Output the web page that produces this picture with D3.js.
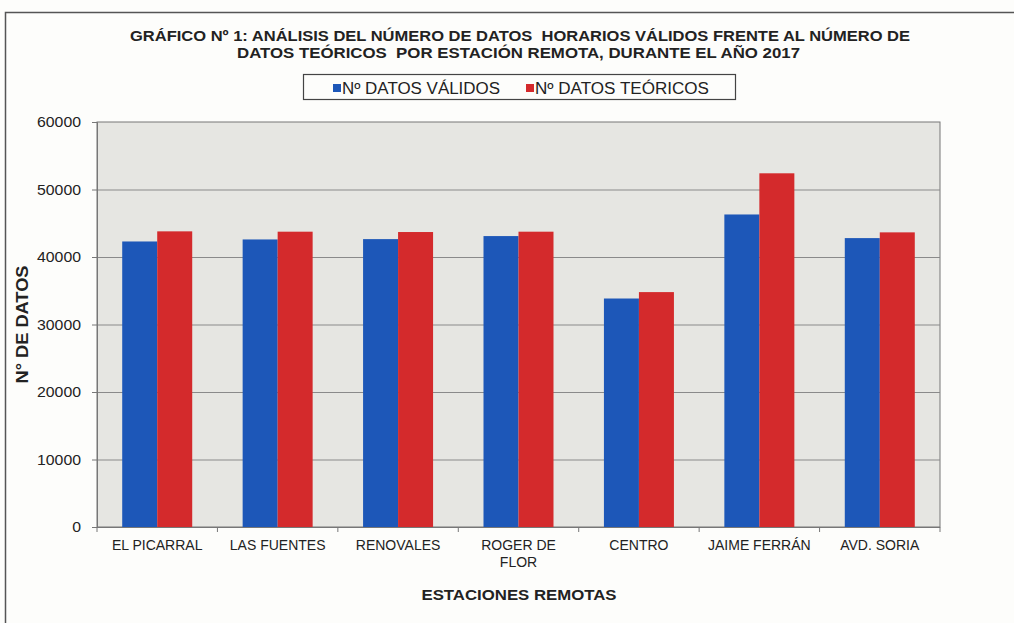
<!DOCTYPE html>
<html>
<head>
<meta charset="utf-8">
<script src="https://cdn.jsdelivr.net/npm/d3@7"></script>
<style>
  body { margin: 0; background: #fdfdfb; }
  svg { display: block; }
</style>
</head>
<body>
<div id="chart"></div>
<script>
const estaciones = ["EL PICARRAL", "LAS FUENTES", "RENOVALES", "ROGER DE|FLOR", "CENTRO", "JAIME FERRÁN", "AVD. SORIA"];
const datosValidos = [42300, 42600, 42650, 43100, 33850, 46300, 42800];
const datosTeoricos = [43800, 43750, 43700, 43750, 34800, 52400, 43650];
const seriesNames = ["Nº DATOS VÁLIDOS", "Nº DATOS TEÓRICOS"];
const seriesColors = ["#1d57b8", "#d42a2c"];
const yTicks = [0, 10000, 20000, 30000, 40000, 50000, 60000];

const W = 1014, H = 623;
const margin = {left: 97, right: 74, top: 122, bottom: 96};
const font = "'Liberation Sans', Arial, sans-serif";

const svg = d3.select("#chart").append("svg").attr("width", W).attr("height", H);

// outer frame (cut off on right/bottom like the scan)
svg.append("rect")
  .attr("x", 5.5).attr("y", 12.5)
  .attr("width", W + 10).attr("height", H + 10)
  .attr("fill", "#fdfdfb")
  .attr("stroke", "#555").attr("stroke-width", 1.5);

const x0 = d3.scaleBand()
  .domain(estaciones)
  .range([margin.left, W - margin.right]);

const x1 = d3.scaleBand()
  .domain([0, 1])
  .range([0, 70]);

const y = d3.scaleLinear()
  .domain([0, 60000])
  .range([H - margin.bottom, margin.top]);

// plot area
svg.append("rect")
  .attr("x", margin.left).attr("y", margin.top)
  .attr("width", W - margin.left - margin.right)
  .attr("height", H - margin.top - margin.bottom)
  .attr("fill", "#e6e6e2")
  .attr("stroke", "#777").attr("stroke-width", 1);

// gridlines
svg.append("g")
  .selectAll("line")
  .data(yTicks.slice(1, -1))
  .enter()
  .append("line")
  .attr("x1", margin.left).attr("x2", W - margin.right)
  .attr("y1", d => y(d) + 0.5).attr("y2", d => y(d) + 0.5)
  .attr("stroke", "#8a8a8a").attr("stroke-width", 1);

// y axis
const yAxis = svg.append("g")
  .attr("transform", "translate(" + margin.left + ",0)")
  .call(d3.axisLeft(y).tickValues(yTicks).tickSize(5).tickPadding(11).tickFormat(d3.format("d")));
yAxis.select(".domain").attr("stroke", "#777");
yAxis.selectAll(".tick line").attr("stroke", "#777");
yAxis.selectAll("text")
  .attr("font-family", font).attr("font-size", 15).attr("fill", "#222")
  .attr("textLength", function() { return this.textContent.length * 8.8; })
  .attr("lengthAdjust", "spacingAndGlyphs");

// x axis
const xAxis = svg.append("g")
  .attr("transform", "translate(0," + (H - margin.bottom) + ")");
xAxis.append("line")
  .attr("x1", margin.left).attr("x2", W - margin.right)
  .attr("y1", 0.5).attr("y2", 0.5)
  .attr("stroke", "#777");
xAxis.selectAll(".tk")
  .data(estaciones.concat(["end"]))
  .enter()
  .append("line")
  .attr("x1", (d, i) => margin.left + i * x0.step())
  .attr("x2", (d, i) => margin.left + i * x0.step())
  .attr("y1", 0).attr("y2", 5)
  .attr("stroke", "#777");

xAxis.selectAll("text.cat")
  .data(estaciones)
  .enter()
  .append("text")
  .attr("class", "cat")
  .attr("x", d => x0(d) + x0.bandwidth() / 2)
  .attr("y", 23)
  .attr("text-anchor", "middle")
  .attr("font-family", font).attr("font-size", 14).attr("fill", "#222")
  .each(function(d) {
    const parts = d.split("|");
    const t = d3.select(this);
    parts.forEach((p, i) => {
      t.append("tspan")
        .attr("x", x0(d) + x0.bandwidth() / 2)
        .attr("dy", i === 0 ? 0 : 17)
        .text(p);
    });
  });

// bars
const groups = svg.append("g")
  .selectAll("g")
  .data(estaciones)
  .enter()
  .append("g")
  .attr("transform", d => "translate(" + (x0(d) + x0.bandwidth() / 2 - 35) + ",0)");

groups.selectAll("rect")
  .data((d, i) => [datosValidos[i], datosTeoricos[i]])
  .enter()
  .append("rect")
  .attr("x", (d, j) => x1(j))
  .attr("y", d => y(d))
  .attr("width", x1.bandwidth())
  .attr("height", d => y(0) - y(d))
  .attr("fill", (d, j) => seriesColors[j]);

// title
const titleLines = [
  {text: "GRÁFICO Nº 1: ANÁLISIS DEL NÚMERO DE DATOS  HORARIOS VÁLIDOS FRENTE AL NÚMERO DE", x: 130, y: 41, len: 780},
  {text: "DATOS TEÓRICOS  POR ESTACIÓN REMOTA, DURANTE EL AÑO 2017", x: 237, y: 58, len: 563}
];
svg.append("g")
  .selectAll("text")
  .data(titleLines)
  .enter()
  .append("text")
  .attr("x", d => d.x).attr("y", d => d.y)
  .attr("textLength", d => d.len)
  .attr("lengthAdjust", "spacingAndGlyphs")
  .attr("font-family", font).attr("font-weight", "bold").attr("font-size", 15.5)
  .attr("fill", "#222")
  .style("white-space", "pre")
  .text(d => d.text);

// legend
const legend = svg.append("g");
legend.append("rect")
  .attr("x", 303.5).attr("y", 74.5)
  .attr("width", 432).attr("height", 25)
  .attr("fill", "#fdfdfb").attr("stroke", "#444").attr("stroke-width", 1.2);
const legendX = [333, 526];
const legendLen = [158, 174];
seriesNames.forEach((name, i) => {
  legend.append("rect")
    .attr("x", legendX[i]).attr("y", 84)
    .attr("width", 8).attr("height", 8)
    .attr("fill", seriesColors[i]);
  legend.append("text")
    .attr("x", legendX[i] + 9).attr("y", 94)
    .attr("textLength", legendLen[i])
    .attr("lengthAdjust", "spacingAndGlyphs")
    .attr("font-family", font).attr("font-size", 16).attr("fill", "#222")
    .text(name);
});

// axis titles
svg.append("text")
  .attr("transform", "translate(28," + ((margin.top + H - margin.bottom) / 2) + ") rotate(-90)")
  .attr("text-anchor", "middle")
  .attr("textLength", 118)
  .attr("lengthAdjust", "spacingAndGlyphs")
  .attr("font-family", font).attr("font-weight", "bold").attr("font-size", 16)
  .attr("fill", "#222")
  .text("N° DE DATOS");

svg.append("text")
  .attr("x", 519).attr("y", 600)
  .attr("text-anchor", "middle")
  .attr("textLength", 195)
  .attr("lengthAdjust", "spacingAndGlyphs")
  .attr("font-family", font).attr("font-weight", "bold").attr("font-size", 15)
  .attr("fill", "#222")
  .text("ESTACIONES REMOTAS");
</script>
</body>
</html>
